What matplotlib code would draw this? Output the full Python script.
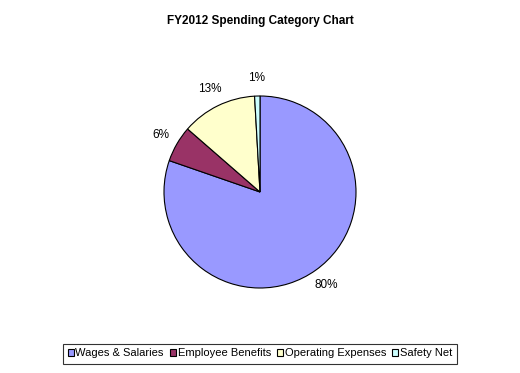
import matplotlib
matplotlib.use('Agg')
import matplotlib.pyplot as plt

categories = ['Wages & Salaries', 'Employee Benefits', 'Operating Expenses', 'Safety Net']
values = [80.3, 6.1, 12.7, 0.9]
colors = ['#9999FF', '#993366', '#FFFFCC', '#CCFFFF']

plt.rcParams['font.family'] = ['Liberation Sans', 'DejaVu Sans']

fig = plt.figure(figsize=(5.2, 3.73), dpi=100)
fig.patch.set_facecolor('white')

# pie centre ~ (260,192) px, radius ~96 px
ax = fig.add_axes([140 / 520, 61 / 373, 240 / 520, 240 / 373])
wedges, texts = ax.pie(values, colors=colors, startangle=90, counterclock=False,
                       labels=['%d%%' % round(v) for v in values], labeldistance=1.19,
                       wedgeprops={'edgecolor': 'black', 'linewidth': 0.8},
                       textprops={'fontsize': 8.5})
for t in texts:
    t.set_horizontalalignment('center')
    t.set_verticalalignment('center')
ax.set_xlim(-1.25, 1.25)
ax.set_ylim(-1.25, 1.25)
ax.set_aspect('equal')

fig.text(0.5, 1 - 21 / 373, 'FY2012 Spending Category Chart', ha='center', va='center',
         fontsize=8.5, fontweight='bold')

leg = fig.legend(wedges, categories, loc='center', bbox_to_anchor=(260 / 520, 1 - 353.5 / 373),
                 ncol=4, fontsize=8, frameon=True, fancybox=False, edgecolor='black',
                 handlelength=0.55, handleheight=0.55, handletextpad=0.15, columnspacing=0.55,
                 borderpad=0.45, borderaxespad=0)
leg.get_frame().set_linewidth(0.8)

fig.savefig('out.png', dpi=100)
